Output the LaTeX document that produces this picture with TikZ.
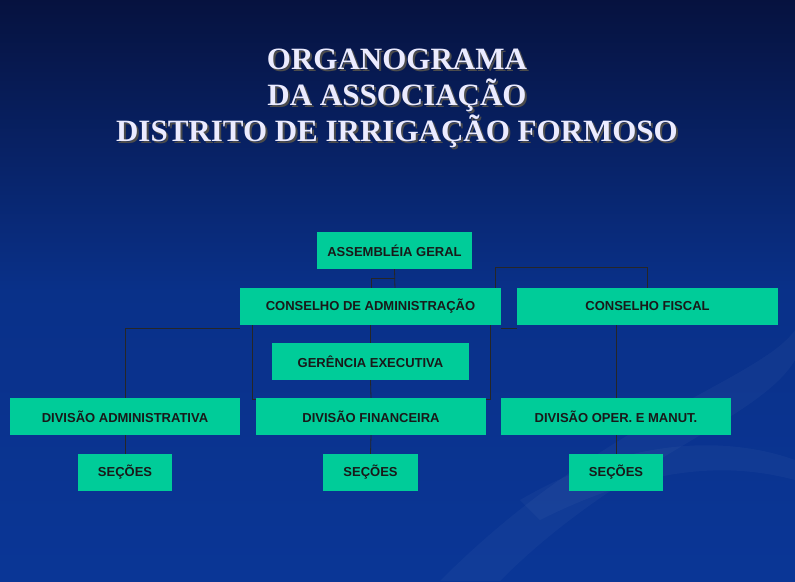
\documentclass[tikz,border=0pt]{standalone}
\usepackage{fontspec}
\setmainfont{Liberation Serif}
\newfontfamily\boxfont{Liberation Sans}
\definecolor{boxgreen}{HTML}{00CC99}
\definecolor{bgtop}{HTML}{06123F}
\definecolor{bgbot}{HTML}{0A3696}
\pgfdeclarelayer{bg}
\pgfdeclarelayer{lines}
\pgfsetlayers{bg,lines,main}
\tikzset{
  orgbox/.style={draw=none, fill=boxgreen, inner sep=0pt, minimum height=37,
    font=\boxfont\bfseries\fontsize{13}{15}\selectfont, text=black!90},
  link/.style={draw=black!85, line width=0.8pt},
  titletext/.style={font=\bfseries\fontsize{31}{36}\selectfont, align=center}
}
\begin{document}
\begin{tikzpicture}[x=1pt, y=-1pt]
  \begin{pgfonlayer}{bg}
  \shade[top color=bgtop, bottom color=bgbot, middle color=bgbot!85!bgtop] (0,0) rectangle (795,581);
  % faint swoosh
  \fill[white, opacity=0.03] (440,581) .. controls (600,420) and (760,380) .. (795,330)
    -- (795,360) .. controls (760,420) and (620,460) .. (500,581) -- cycle;
  \fill[white, opacity=0.03] (520,500) .. controls (640,430) and (740,440) .. (795,460)
    -- (795,480) .. controls (720,460) and (640,470) .. (540,520) -- cycle;
  \end{pgfonlayer}
  \useasboundingbox (0,0) rectangle (795,581);
  % title
  \node[titletext, text=black!70] at (399,100) {ORGANOGRAMA\\DA ASSOCIAÇÃO\\DISTRITO DE IRRIGAÇÃO FORMOSO};
  \node[titletext, text=white!92!blue] (title) at (397,98) {ORGANOGRAMA\\DA ASSOCIAÇÃO\\DISTRITO DE IRRIGAÇÃO FORMOSO};
  % boxes
  \node[orgbox, minimum width=155] (ag) at (394.5,250.5) {ASSEMBLÉIA GERAL};
  \node[orgbox, minimum width=261] (ca) at (370.5,306.5) {CONSELHO DE ADMINISTRAÇÃO};
  \node[orgbox, minimum width=261] (cf) at (647.5,306.5) {CONSELHO FISCAL};
  \node[orgbox, minimum width=197] (ge) at (370.5,361.5) {GERÊNCIA EXECUTIVA};
  \node[orgbox, minimum width=230] (da) at (125,416.5) {DIVISÃO ADMINISTRATIVA};
  \node[orgbox, minimum width=230] (df) at (371,416.5) {DIVISÃO FINANCEIRA};
  \node[orgbox, minimum width=230] (dm) at (616,416.5) {DIVISÃO OPER. E MANUT.};
  \node[orgbox, minimum width=94] (sa) at (125,472.5) {SEÇÕES};
  \node[orgbox, minimum width=95] (sf) at (370.5,472.5) {SEÇÕES};
  \node[orgbox, minimum width=94] (sm) at (616,472.5) {SEÇÕES};
  % connectors
  \begin{pgfonlayer}{lines}
  \coordinate (agl) at (395,278);
  \coordinate (agr) at (495,267);
  \draw[link] (ag.south) -- (395,290);
  \draw[link] (agl) -| (371,290);
  \draw[link] (495,290) |- (agr) -| (cf.north);
  \draw[link] ([yshift=-3pt]ca.south west) -| (da.north);
  \draw[link] ([yshift=-3pt]ca.south east) -- ([yshift=-3pt]cf.south west);
  \draw[link] (252,323) |- ([yshift=-2pt]df.north west);
  \draw[link] (490,323) |- ([yshift=-2pt]df.north east);
  \draw[link] (ca.south) -- (ge.north);
  \draw[link] (ge.south) -- (df.north);
  \draw[link] (cf.south -| dm.north) -- (dm.north);
  \draw[link] (da.south) -- (sa.north);
  \draw[link] (df.south) -- (sf.north);
  \draw[link] (dm.south) -- (sm.north);
  \end{pgfonlayer}
\end{tikzpicture}
\end{document}
